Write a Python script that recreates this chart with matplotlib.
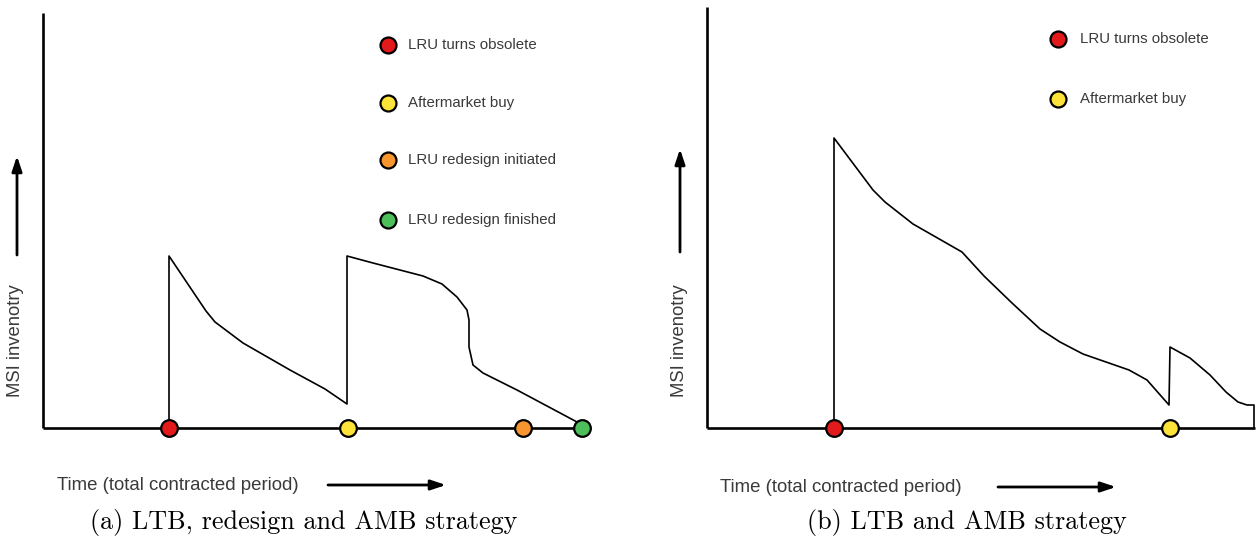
import matplotlib
matplotlib.use("Agg")
import matplotlib.pyplot as plt

# ---------------- data (time, inventory) relative to each panel's origin ----
# Panel (a): LTB, redesign and AMB strategy
a_time = [126, 126, 163, 172, 200, 247, 282, 304, 304, 330, 380, 399, 414,
          424, 426, 426, 430, 440, 474, 534, 539]
a_inv = [0, 172, 117, 106, 85, 58, 39, 24, 172, 165, 152, 144, 131,
         118, 108, 81, 63, 55, 38, 6, 1]
a_event_time = [126, 305, 480, 539]
a_event_colors = ["#e31a1c", "#fde23a", "#f7962f", "#4cbf5a"]
a_legend_labels = ["LRU turns obsolete", "Aftermarket buy",
                   "LRU redesign initiated", "LRU redesign finished"]
a_legend_inv = [383, 325, 268, 208]

# Panel (b): LTB and AMB strategy
b_time = [127, 127, 166, 178, 206, 255, 277, 305, 333, 353, 376, 422, 440,
          462, 463, 483, 503, 519, 531, 540, 547, 547]
b_inv = [0, 290, 238, 226, 204, 176, 152, 125, 99, 86, 74, 58, 48,
         23, 81, 70, 53, 36, 26, 23, 23, 0]
b_event_time = [127, 463]
b_event_colors = ["#e31a1c", "#fde23a"]
b_legend_labels = ["LRU turns obsolete", "Aftermarket buy"]
b_legend_inv = [389, 329]

captions = ["(a) LTB, redesign and AMB strategy", "(b) LTB and AMB strategy"]
ylabel = "MSI invenotry"
xlabel = "Time (total contracted period)"

W, H = 1258, 537
fig = plt.figure(figsize=(W / 100, H / 100), dpi=100)
fig.patch.set_facecolor("white")

SANS = "Liberation Sans"
TXT = "#3a3a3a"


def panel(ax, origin_x, origin_y, half_left, time, inv, ev_t, ev_c, leg_lab,
          leg_inv, leg_t, leg_txt_t, yaxis_top, base_len, ylab_t, yarrow,
          xlab_t, xarrow, xlab_inv, cap_t, caption):
    ax.set_xlim(half_left - origin_x, half_left + W / 2 - origin_x)
    ax.set_ylim(origin_y - H, origin_y)
    ax.axis("off")
    # axes frame lines
    ax.plot([0, 0], [0, yaxis_top], color="black", lw=1.9,
            solid_capstyle="butt", zorder=2)
    ax.plot([0, base_len], [0, 0], color="black", lw=1.9,
            solid_capstyle="butt", zorder=2)
    # inventory curve
    ax.plot(time, inv, color="black", lw=1.2, zorder=3,
            solid_joinstyle="round")
    # events on the time axis
    for t, c in zip(ev_t, ev_c):
        ax.plot([t], [0], marker="o", ms=12, mfc=c, mec="black", mew=1.6,
                zorder=5)
    # legend
    for lab, c, yv in zip(leg_lab, ev_c, leg_inv):
        ax.plot([leg_t], [yv], marker="o", ms=11.5, mfc=c, mec="black",
                mew=1.6, zorder=5)
        ax.text(leg_txt_t, yv, lab, fontsize=10.8, family=SANS, color=TXT,
                va="center", ha="left")
    # y label and arrow
    ax.text(ylab_t, 87, ylabel, rotation=90, fontsize=13.3, family=SANS,
            color=TXT, ha="center", va="center")
    ax.annotate("", xy=(ylab_t + 1, yarrow[1]), xytext=(ylab_t + 1, yarrow[0]),
                arrowprops=dict(arrowstyle="-|>,head_length=0.9,head_width=0.3",
                                color="black", lw=2.0, shrinkA=0, shrinkB=0))
    # x label and arrow
    ax.text(xlab_t, xlab_inv, xlabel, fontsize=13.4, family=SANS, color=TXT,
            ha="left", va="center")
    ax.annotate("", xy=(xarrow[1], xlab_inv), xytext=(xarrow[0], xlab_inv),
                arrowprops=dict(arrowstyle="-|>,head_length=0.9,head_width=0.3",
                                color="black", lw=2.0, shrinkA=0, shrinkB=0))
    # caption
    ax.text(cap_t, -95, caption, fontsize=18.8, family="cmr10", color="black",
            ha="center", va="center")


axA = fig.add_axes([0, 0, 0.5, 1])
panel(axA, 43, 428, 0, a_time, a_inv, a_event_time, a_event_colors,
      a_legend_labels, a_legend_inv, 345, 365, 415, 547, -27, (173, 272),
      14, (285, 403), -57, 261, captions[0])

axB = fig.add_axes([0.5, 0, 0.5, 1])
panel(axB, 707, 428, W / 2, b_time, b_inv, b_event_time, b_event_colors,
      b_legend_labels, b_legend_inv, 351, 373, 421, 548, -28, (176, 279),
      13, (291, 409), -59, 260, captions[1])

fig.savefig("out.png", dpi=100, facecolor="white")
